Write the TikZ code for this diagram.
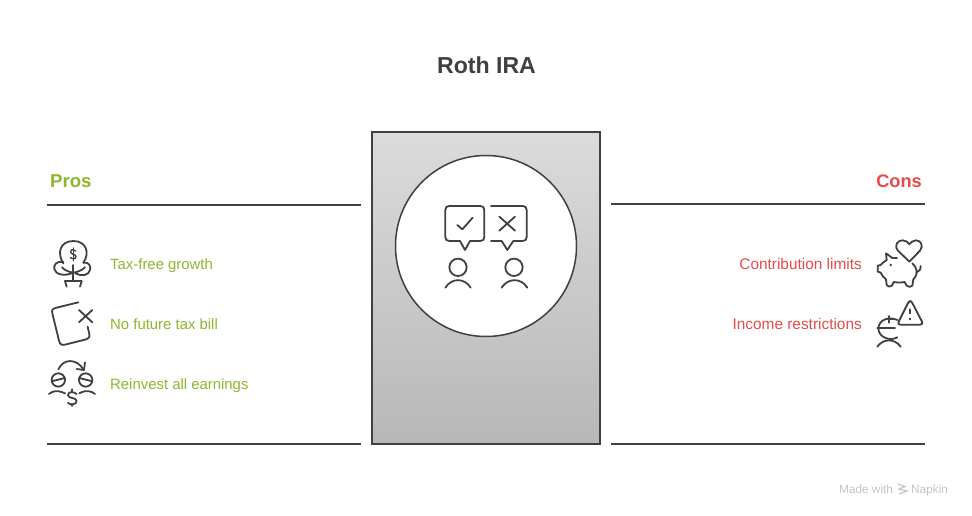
\documentclass[tikz,border=0pt]{standalone}
\usepackage{fontspec}
\setmainfont{Liberation Sans}
\definecolor{ink}{HTML}{404040}
\definecolor{gr}{HTML}{8DB72E}
\definecolor{rd}{HTML}{E54B4B}
\definecolor{wmgrey}{HTML}{C4C4C4}
\tikzset{
  rule/.style={draw=ink,line width=1.5pt},
  ico/.style={draw=ink,line width=1.8pt,line cap=round,line join=round},
  zoomed/.style={x=0.3333pt,y=-0.3333pt},
  prolabel/.style={text=gr,font=\fontsize{14.9}{16}\selectfont,anchor=base west,inner sep=0pt},
  conlabel/.style={text=rd,font=\fontsize{15.4}{16}\selectfont,anchor=base east,inner sep=0pt},
  wm/.style={text=wmgrey,font=\fontsize{11.8}{14}\selectfont,anchor=base west,inner sep=0pt},
}
\begin{document}
\begin{tikzpicture}[x=1pt,y=-1pt]
\useasboundingbox (0,0) rectangle (972,516);
\fill[white] (0,0) rectangle (972,516);
\node[text=ink,font=\fontsize{23.1}{28}\bfseries\selectfont,anchor=base,inner sep=0pt] (title) at (486.5,73.5) {Roth IRA};
\node[text=gr,font=\fontsize{18.6}{24}\bfseries\selectfont,anchor=base west,inner sep=0pt] (pros) at (50,187) {Pros};
\node[text=rd,font=\fontsize{18.2}{24}\bfseries\selectfont,anchor=base east,inner sep=0pt] (cons) at (922,187) {Cons};
\draw[rule] (47,205) -- (361,205);
\draw[rule] (47,444) -- (361,444);
\draw[rule] (611,204) -- (925,204);
\draw[rule] (611,444) -- (925,444);
\draw[rule,top color=black!14,bottom color=black!28] (372,132) rectangle (600,444);
\draw[rule,fill=white] (486,246) circle (90.5);
\node[prolabel] (p1) at (110,269) {Tax-free growth};
\node[prolabel] (p2) at (110,329) {No future tax bill};
\node[prolabel] (p3) at (110,389) {Reinvest all earnings};
\node[conlabel] (c1) at (862,269) {Contribution limits};
\node[conlabel] (c2) at (862,329) {Income restrictions};
% left icons
\begin{scope}[shift={(30,230)},zoomed]
\draw[ico] (100,100) .. controls (80,70) and (90,33) .. (130,33) .. controls (170,33) and (180,70) .. (160,98);
\draw[ico] (100,96) .. controls (80,92) and (70,105) .. (73,117) .. controls (76,135) and (105,138) .. (125,130);
\draw[ico] (160,98) .. controls (178,95) and (183,110) .. (180,120) .. controls (176,137) and (155,140) .. (136,130);
\draw[ico] (130,105) -- (130,150);
\draw[ico] (96,112) .. controls (105,122) and (118,126) .. (130,128);
\draw[ico] (165,112) .. controls (155,122) and (142,126) .. (130,128);
\draw[ico] (110,170) -- (105,153) -- (155,153) -- (150,170);
\draw[ico,line width=1.4pt] (137,63) .. controls (134,57) and (122,57) .. (122,65) .. controls (122,74) and (138,72) .. (138,80) .. controls (138,88) and (125,88) .. (121,82);
\draw[ico,line width=1.4pt] (130,54) -- (130,92);
\draw[ico] (145,217) -- (80,233) .. controls (68,236) and (64,240) .. (67,250) -- (87,332) .. controls (90,344) and (95,346) .. (105,344) -- (165,329) .. controls (176,326) and (180,322) .. (178,312) -- (173,290);
\draw[ico] (147,240) -- (187,277) (187,240) -- (147,277);
\draw[ico] (85,418) .. controls (100,385) and (140,385) .. (160,418);
\draw[ico] (165,397) -- (162,420) -- (140,417);
\draw[ico] (85,450) circle (20) (167,450) circle (20);
\draw[ico] (65,454) -- (105,444) (147,444) -- (187,454);
\draw[ico] (57,492) .. controls (68,484) and (78,478) .. (105,490);
\draw[ico] (148,490) .. controls (170,478) and (185,484) .. (195,492);
\draw[ico] (140,492) .. controls (130,484) and (114,484) .. (114,496) .. controls (114,506) and (140,502) .. (140,513) .. controls (140,524) and (122,526) .. (114,519);
\draw[ico] (127,478) -- (127,484) (127,522) -- (127,528);
\end{scope}
% centre icons
\begin{scope}[shift={(420,190)},zoomed]
\draw[ico] (88,48) -- (181,48) .. controls (189,48) and (193,52) .. (193,60) -- (193,141) .. controls (193,149) and (189,153) .. (181,153) -- (150,153) -- (135,180) -- (120,153) -- (88,153) .. controls (80,153) and (76,149) .. (76,141) -- (76,60) .. controls (76,52) and (80,48) .. (88,48) -- cycle;
\draw[ico] (112,105) -- (127,118) -- (158,83);
\draw[ico] (213,48) -- (308,48) .. controls (316,48) and (320,52) .. (320,60) -- (320,141) .. controls (320,149) and (316,153) .. (308,153) -- (280,153) -- (262,180) -- (245,153) -- (213,153);
\draw[ico] (238,80) -- (285,122) (285,80) -- (238,122);
\draw[ico] (114,232) circle (26) (282,232) circle (26);
\draw[ico] (76,293) .. controls (95,263) and (133,263) .. (152,293);
\draw[ico] (245,293) .. controls (264,263) and (303,263) .. (322,293);
\end{scope}
% right icons
\begin{scope}[shift={(860,230)},zoomed]
\draw[ico] (148,95) -- (114,62) .. controls (100,45) and (115,30) .. (128,31) .. controls (138,31) and (145,37) .. (148,43) .. controls (152,37) and (160,31) .. (168,31) .. controls (182,31) and (192,47) .. (180,62) -- cycle;
\draw[ico] (111,84) -- (97,84) -- (78,70) -- (80,90) .. controls (72,95) and (66,100) .. (62,105) -- (53,107) -- (53,125) -- (62,128) .. controls (65,137) and (72,143) .. (78,148) -- (80,165) .. controls (82,171) and (92,171) .. (96,167) -- (101,156) .. controls (110,158) and (125,158) .. (134,156) -- (140,167) .. controls (145,172) and (155,172) .. (157,167) -- (160,148) .. controls (168,140) and (172,130) .. (170,122) .. controls (168,112) and (163,105) .. (157,100);
\draw[ico] (170,127) .. controls (178,125) and (182,118) .. (182,108);
\fill[ink] (92,105) circle (4);
\draw[ico] (150,213) .. controls (147,213) and (145,217) .. (144,219) -- (116,275) .. controls (113,281) and (116,284) .. (121,284) -- (180,284) .. controls (186,284) and (189,281) .. (186,275) -- (157,219) .. controls (155,216) and (153,213) .. (150,213) -- cycle;
\draw[ico] (150,238) -- (150,250);
\fill[ink] (150,267) circle (4);
\draw[ico] (112,270) .. controls (85,258) and (56,270) .. (55,296) .. controls (56,322) and (90,335) .. (112,322);
\draw[ico] (52,295) -- (105,295);
\draw[ico] (87,258) -- (87,278) (78,268) -- (100,268);
\draw[ico] (52,350) .. controls (70,325) and (104,325) .. (122,350);
\end{scope}
% watermark
\node[wm] (made) at (839,493) {Made with};
\node[wm] (napkin) at (911,493) {Napkin};
\draw[wmgrey,line width=1.2pt] (898,484) -- (905,486.5) -- (899,489) -- (907,491) -- (899,494);
\end{tikzpicture}
\end{document}
